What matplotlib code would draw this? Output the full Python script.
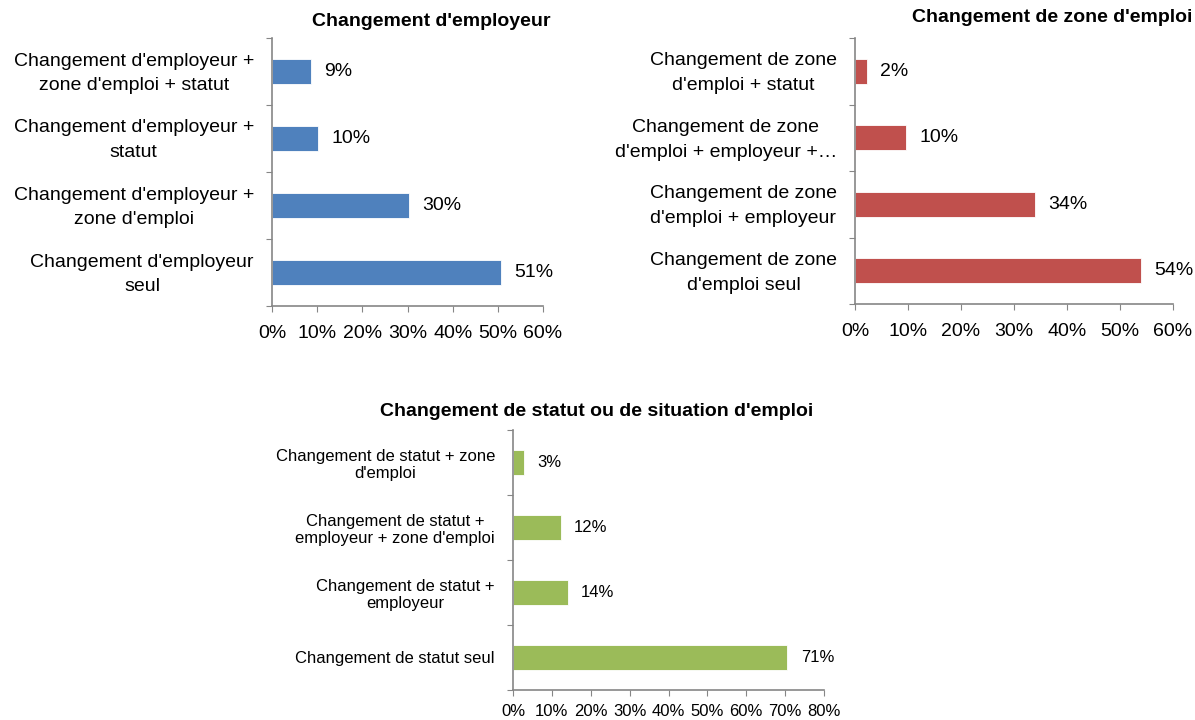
import matplotlib
matplotlib.use("Agg")
from matplotlib import pyplot as plt
from matplotlib.ticker import FuncFormatter
from matplotlib.transforms import ScaledTranslation

plt.rcParams["font.family"] = ["Liberation Sans", "DejaVu Sans"]

W, H = 1195, 720

employeur_labels = [
    "Changement d'employeur\nseul",
    "Changement d'employeur +\nzone d'emploi",
    "Changement d'employeur +\nstatut",
    "Changement d'employeur +\nzone d'emploi + statut",
]
employeur_values = [50.8, 30.4, 10.2, 8.6]

zone_labels = [
    "Changement de zone\nd'emploi seul",
    "Changement de zone\nd'emploi + employeur",
    "Changement de zone\nd'emploi + employeur +…",
    "Changement de zone\nd'emploi + statut",
]
zone_values = [54.0, 34.0, 9.6, 2.2]

statut_labels = [
    "Changement de statut seul",
    "Changement de statut +\nemployeur",
    "Changement de statut +\nemployeur + zone d'emploi",
    "Changement de statut + zone\nd'emploi",
]
statut_values = [70.6, 14.1, 12.3, 2.8]

titles = [
    "Changement d'employeur",
    "Changement de zone d'emploi",
    "Changement de statut ou de situation d'emploi",
]
colors = ["#4F81BD", "#C0504D", "#9BBB59"]
spine_color = "#868686"


def rect(left, right, top, bottom):
    return [left / W, 1 - bottom / H, (right - left) / W, (bottom - top) / H]


def panel(ax, labels, values, color, xmax, fs, tick_fs, val_fs, xpad, ls, lift=0):
    y = list(range(len(values)))
    ax.barh(y, values, height=0.37, color=color, edgecolor="white", linewidth=0.6)
    for yi, v in zip(y, values):
        ax.annotate(f"{v:.0f}%", (v, yi), xytext=(9.5, 0), textcoords="offset points",
                    va="center", ha="left", fontsize=val_fs)
    ax.set_xlim(0, xmax)
    ax.set_ylim(-0.5, len(values) - 0.5)
    ax.set_xticks(range(0, xmax + 1, 10))
    ax.xaxis.set_major_formatter(FuncFormatter(lambda x, p: f"{x:.0f}%"))
    ax.set_yticks([i - 0.5 for i in range(len(values) + 1)])
    ax.set_yticklabels([])
    ax.set_yticks(y, minor=True)
    ax.set_yticklabels(labels, minor=True, fontsize=fs, multialignment="center",
                       linespacing=ls)
    ax.tick_params(axis="y", which="minor", length=0, pad=13)
    ax.tick_params(axis="y", which="major", length=4, color=spine_color)
    ax.tick_params(axis="x", length=4, color=spine_color, labelsize=tick_fs, pad=xpad)
    if lift:
        shift = ScaledTranslation(0, lift / 100, ax.figure.dpi_scale_trans)
        for t in ax.get_yticklabels(minor=True):
            t.set_transform(t.get_transform() + shift)
    for s in ["top", "right"]:
        ax.spines[s].set_visible(False)
    for s in ["left", "bottom"]:
        ax.spines[s].set_color(spine_color)
        ax.spines[s].set_linewidth(1.2)


fig = plt.figure(figsize=(W / 100, H / 100), dpi=100)

ax1 = fig.add_axes(rect(272, 543, 38, 306))
panel(ax1, employeur_labels, employeur_values, colors[0], 60, 14, 14, 14, 10, 1.6, 4)

ax2 = fig.add_axes(rect(855, 1173, 38, 304))
panel(ax2, zone_labels, zone_values, colors[1], 60, 14, 14, 14, 10, 1.6, 4)

ax3 = fig.add_axes(rect(513, 824, 430, 690))
panel(ax3, statut_labels, statut_values, colors[2], 80, 12, 12, 12, 6, 1.2)

fig.text(431 / W, 1 - 22 / H, titles[0], ha="center", va="center",
         fontsize=14, fontweight="bold")
fig.text(1192 / W, 1 - 17 / H, titles[1], ha="right", va="center",
         fontsize=14, fontweight="bold")
fig.text(597 / W, 1 - 412 / H, titles[2], ha="center", va="center",
         fontsize=14, fontweight="bold")

fig.savefig("out.png", dpi=100)
